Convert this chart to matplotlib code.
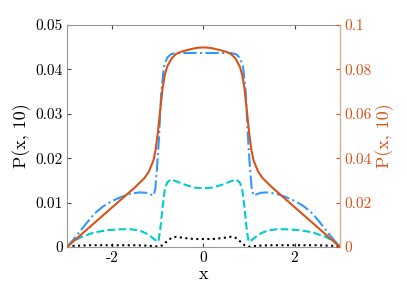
import numpy as np
import matplotlib
matplotlib.use("Agg")
import matplotlib.pyplot as plt

plt.rcParams['font.family'] = ['cmr10', 'DejaVu Serif']
plt.rcParams['axes.unicode_minus'] = False
plt.rcParams['font.size'] = 11

# half-profiles (x <= 0), mirrored for x > 0
x_blue = [-3, -2.9, -2.8, -2.6, -2.4, -2.2, -2.0, -1.8, -1.6, -1.4, -1.25, -1.15,
          -1.1, -1.06, -1.02, -0.98, -0.93, -0.87, -0.8, -0.72, -0.6, -0.3, 0]
p_blue = [0, 0.0012, 0.0024, 0.0050, 0.0075, 0.0092, 0.0104, 0.0113, 0.0120,
          0.0123, 0.0122, 0.0118, 0.0116, 0.0130, 0.0180, 0.0242, 0.0346, 0.0406,
          0.0426, 0.0434, 0.0437, 0.0437, 0.0437]

x_cyan = [-3, -2.9, -2.7, -2.4, -2.1, -1.8, -1.6, -1.4, -1.25, -1.15, -1.05,
          -0.99, -0.95, -0.9, -0.85, -0.8, -0.72, -0.6, -0.4, -0.2, 0]
p_cyan = [0.0002, 0.0010, 0.0022, 0.0033, 0.0038, 0.0040, 0.0040, 0.0037, 0.0030,
          0.0023, 0.0015, 0.0012, 0.0040, 0.0090, 0.0130, 0.0145, 0.0152, 0.0148,
          0.0140, 0.0134, 0.0132]

x_black = [-3, -2.5, -2, -1.5, -1.2, -1.0, -0.9, -0.8, -0.7, -0.6, -0.4, -0.2, 0]
p_black = [0.0002, 0.0004, 0.0004, 0.0004, 0.0003, 0.0001, 0.0004, 0.0013,
           0.0021, 0.0023, 0.0020, 0.0018, 0.0018]

x_orange = [-3, -2.5, -2, -1.7, -1.5, -1.3, -1.2, -1.1, -1.05, -1.0, -0.95, -0.9,
            -0.85, -0.8, -0.7, -0.6, -0.5, -0.4, -0.3, -0.2, -0.1, 0]
p_orange = [0, 0.0090, 0.0180, 0.0234, 0.0270, 0.0310, 0.0340, 0.0390, 0.0440,
            0.0520, 0.0620, 0.0715, 0.0775, 0.0812, 0.0850, 0.0870, 0.0879, 0.0885,
            0.0890, 0.0895, 0.0898, 0.0899]


def mirror(xs, ps):
    xs = np.array(xs); ps = np.array(ps)
    return np.concatenate([xs, -xs[-2::-1]]), np.concatenate([ps, ps[-2::-1]])


fig = plt.figure(figsize=(4.07, 2.96), dpi=100)
ax = fig.add_axes([0.1646, 0.1655, 0.6708, 0.75])
ax2 = ax.twinx()

xb, yb = mirror(x_blue, p_blue)
xc, yc = mirror(x_cyan, p_cyan)
xk, yk = mirror(x_black, p_black)
xo, yo = mirror(x_orange, p_orange)

ax.plot(xb, yb, color='#3399ff', ls='-.', lw=1.5)
ax.plot(xc, yc, color='#00cccc', ls='--', lw=1.5)
ax.plot(xk, yk, color='black', ls=':', lw=1.5)
ax2.plot(xo, yo, color='#d95319', ls='-', lw=1.5)

ax.set_xlim(-3, 3)
ax.set_ylim(0, 0.05)
ax2.set_ylim(0, 0.1)
ax.set_xticks([-2, 0, 2])
ax.set_xticklabels(['-2', '0', '2'])
ax.set_yticks([0, 0.01, 0.02, 0.03, 0.04, 0.05])
ax.set_yticklabels(['0', '0.01', '0.02', '0.03', '0.04', '0.05'])
ax2.set_yticks([0, 0.02, 0.04, 0.06, 0.08, 0.1])
ax2.set_yticklabels(['0', '0.02', '0.04', '0.06', '0.08', '0.1'])

ax.tick_params(direction='in', length=3, width=0.8, color='#444444', top=True, right=False, pad=3)
ax2.tick_params(direction='in', length=3, width=0.8, colors='#d95319', pad=3)

for s in ['left', 'top', 'bottom']:
    ax.spines[s].set_color('#999999')
ax2.spines['right'].set_color('#e0b090')
for s in ['left', 'top', 'bottom']:
    ax2.spines[s].set_visible(False)

ax.set_xlabel('x', fontsize=13, labelpad=1)
ax.set_ylabel('P(x, 10)', fontsize=13, labelpad=3)
ax2.set_ylabel('P(x, 10)', fontsize=13, color='#d95319', labelpad=3)

fig.savefig('out.png', dpi=100)
